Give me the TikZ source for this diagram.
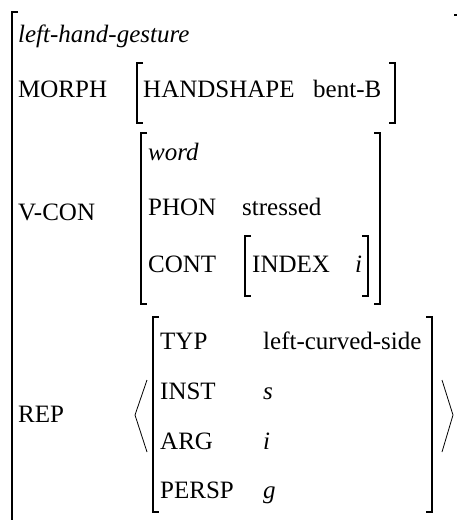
\documentclass[tikz,border=0pt]{standalone}
\usepackage{fontspec}
\setmainfont{Liberation Serif}
\begin{document}
\begin{tikzpicture}[x=1pt,y=-1pt,
  lbl/.style={anchor=base west,inner sep=0pt,font=\fontsize{25}{30}\selectfont},
  brk/.style={line width=1.3pt},
  ang/.style={line width=0.8pt}]
\useasboundingbox (0,0) rectangle (457,520);

% outer matrix
\node[lbl] (gest) at (18,42) {\textit{left-hand-gesture}};
\node[lbl] (morph) at (18,97) {MORPH};
\node[lbl] (vcon) at (18,220) {V-CON};
\node[lbl] (rep) at (18,422) {REP};
\draw[brk,line width=1.6pt] (18,12) -- (12,12) -- (12,522);
\fill (454,14) rectangle (457,16);

% MORPH
\node[lbl] (hs) at (143,97) {HANDSHAPE};
\node[lbl] (bentb) at (313,97) {bent-B};
\draw[brk] (143,63) -- (137,63) -- (137,123) -- (143,123);
\draw[brk] (389,63) -- (395,63) -- (395,123) -- (389,123);

% V-CON
\node[lbl] (word) at (148,160) {\textit{word}};
\node[lbl] (phon) at (148,215) {PHON};
\node[lbl] (stress) at (242,215) {stressed};
\node[lbl] (cont) at (148,272) {CONT};
\node[lbl] (index) at (252,272) {INDEX};
\node[lbl] (idx) at (355,272) {\textit{i}};
\draw[brk] (251,236) -- (245,236) -- (245,296) -- (251,296);
\draw[brk] (362,236) -- (368,236) -- (368,296) -- (362,296);
\draw[brk] (147,133) -- (141,133) -- (141,304) -- (147,304);
\draw[brk] (374,133) -- (380,133) -- (380,304) -- (374,304);

% REP
\node[lbl] (typ) at (160,349) {TYP};
\node[lbl] (typv) at (263,349) {left-curved-side};
\node[lbl] (inst) at (160,399) {INST};
\node[lbl] (instv) at (263,399) {\textit{s}};
\node[lbl] (arg) at (160,449) {ARG};
\node[lbl] (argv) at (263,449) {\textit{i}};
\node[lbl] (persp) at (160,498) {PERSP};
\node[lbl] (perspv) at (263,498) {\textit{g}};
\draw[brk] (159,317) -- (153,317) -- (153,512) -- (159,512);
\draw[brk] (426,317) -- (432,317) -- (432,512) -- (426,512);
\draw[ang] (147,380) -- (135,415) -- (147,452);
\draw[ang] (442,380) -- (453,415) -- (442,452);
\end{tikzpicture}
\end{document}
